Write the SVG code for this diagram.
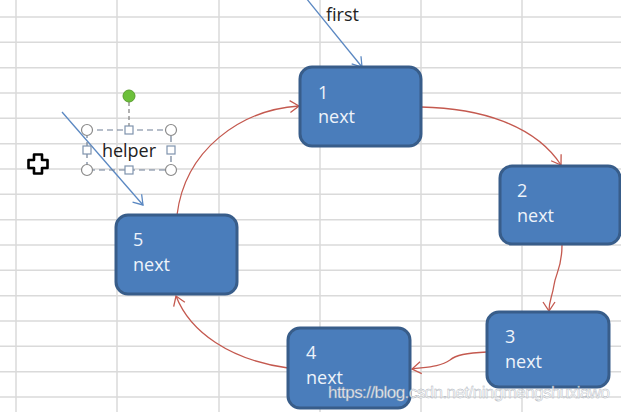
<svg xmlns="http://www.w3.org/2000/svg" width="621" height="412" viewBox="0 0 621 412">
<style>
.grid line{stroke:#dadada;stroke-width:1.5}
.node rect{fill:#4a7dbb;stroke:#385d8a;stroke-width:3}
.node text{fill:#eef3fa;font-family:"Open Sans","Liberation Sans",sans-serif;font-size:18px}
.red{fill:none;stroke:#c4594f;stroke-width:1.3;marker-end:url(#ra)}
.blue{fill:none;stroke:#5b88c2;stroke-width:1.3;marker-end:url(#ba)}
.lbl{fill:#222;font-family:"Open Sans","Liberation Sans",sans-serif;font-size:18px}
.h{fill:#fff;stroke:#8a8a8a;stroke-width:1.2}
.hs{fill:#fff;stroke:#7f93ad;stroke-width:1.2}
</style>
<defs>
<marker id="ra" markerWidth="14" markerHeight="14" refX="10" refY="7" orient="auto" markerUnits="userSpaceOnUse">
<path d="M1,1 L10,7 L1,13" fill="none" stroke="#c4594f" stroke-width="1.3"/>
</marker>
<marker id="ba" markerWidth="14" markerHeight="14" refX="10" refY="7" orient="auto" markerUnits="userSpaceOnUse">
<path d="M1,1 L10,7 L1,13" fill="none" stroke="#5b88c2" stroke-width="1.3"/>
</marker>
</defs>
<rect width="621" height="412" fill="#ffffff"/>
<g class="grid">
<line x1="0" y1="17" x2="621" y2="17"/>
<line x1="0" y1="42.3" x2="621" y2="42.3"/>
<line x1="0" y1="67.7" x2="621" y2="67.7"/>
<line x1="0" y1="93" x2="621" y2="93"/>
<line x1="0" y1="118.3" x2="621" y2="118.3"/>
<line x1="0" y1="143.7" x2="621" y2="143.7"/>
<line x1="0" y1="169" x2="621" y2="169"/>
<line x1="0" y1="194.3" x2="621" y2="194.3"/>
<line x1="0" y1="219.7" x2="621" y2="219.7"/>
<line x1="0" y1="245" x2="621" y2="245"/>
<line x1="0" y1="270.3" x2="621" y2="270.3"/>
<line x1="0" y1="295.7" x2="621" y2="295.7"/>
<line x1="0" y1="321" x2="621" y2="321"/>
<line x1="0" y1="346.3" x2="621" y2="346.3"/>
<line x1="0" y1="371.7" x2="621" y2="371.7"/>
<line x1="0" y1="397" x2="621" y2="397"/>
<line x1="16" y1="0" x2="16" y2="412"/>
<line x1="117" y1="0" x2="117" y2="412"/>
<line x1="219" y1="0" x2="219" y2="412"/>
<line x1="320" y1="0" x2="320" y2="412"/>
<line x1="421" y1="0" x2="421" y2="412"/>
<line x1="522" y1="0" x2="522" y2="412"/>
</g>
<g id="connectors">
<path class="red" d="M421,107 C480,108 535,125 561,165"/>
<path class="red" d="M562,245 C562,268 556,272 554,285 C552,298 549,300 549,311"/>
<path class="red" d="M487,352 C466,353 456,355 450,360 C440,367 426,367 412,369"/>
<path class="red" d="M288,368 C230,360 190,332 176,296"/>
<path class="red" d="M177,215 C185,150 240,110 299,106"/>
<path class="blue" d="M306,-2 L362,67"/>
<path class="blue" d="M62,112 L143,205"/>
</g>
<g id="node1" class="node"><rect x="300" y="67" width="121" height="79" rx="12"/><text x="318" y="99">1</text><text x="318" y="123">next</text></g>
<g id="node2" class="node"><rect x="500" y="166" width="120" height="78" rx="12"/><text x="517" y="197">2</text><text x="517" y="222">next</text></g>
<g id="node3" class="node"><rect x="487" y="312" width="122" height="75" rx="12"/><text x="505" y="343">3</text><text x="505" y="368">next</text></g>
<g id="node4" class="node"><rect x="288" y="328" width="122" height="80" rx="12"/><text x="306" y="359">4</text><text x="306" y="384">next</text></g>
<g id="node5" class="node"><rect x="116" y="215" width="121" height="79" rx="12"/><text x="133" y="246">5</text><text x="133" y="271">next</text></g>
<g id="first-label"><text class="lbl" x="326" y="21">first</text></g>
<g id="helper">
<line x1="129" y1="102" x2="129" y2="126" stroke="#7f7f7f" stroke-width="1.2" stroke-dasharray="4,3"/>
<rect x="87" y="130" width="84" height="40" fill="none" stroke="#6f7f95" stroke-width="1.2" stroke-dasharray="6,4"/>
<circle cx="129" cy="96" r="6" fill="#6cc03a" stroke="#5a9e30" stroke-width="1"/>
<circle class="h" cx="87" cy="130" r="5.5"/>
<circle class="h" cx="171" cy="130" r="5.5"/>
<circle class="h" cx="87" cy="170" r="5.5"/>
<circle class="h" cx="171" cy="170" r="5.5"/>
<rect class="hs" x="125" y="126" width="8" height="8"/>
<rect class="hs" x="125" y="166" width="8" height="8"/>
<rect class="hs" x="83" y="146" width="8" height="8"/>
<rect class="hs" x="167" y="146" width="8" height="8"/>
<text class="lbl" x="129" y="157" text-anchor="middle" fill="#333">helper</text>
</g>
<path d="M34,154.5 H42 V160 H47.5 V168 H42 V173.5 H34 V168 H28.5 V160 H34 Z" fill="#fff" stroke="#000" stroke-width="2.6" stroke-linejoin="round"/>
<text x="328" y="398" textLength="282" font-family="Liberation Sans,Arial,sans-serif" font-size="17" fill="#ffffff" stroke="#9aa3ad" stroke-width="0.4" opacity="0.9">https://blog.csdn.net/ningmengshuxiawo</text>
</svg>
